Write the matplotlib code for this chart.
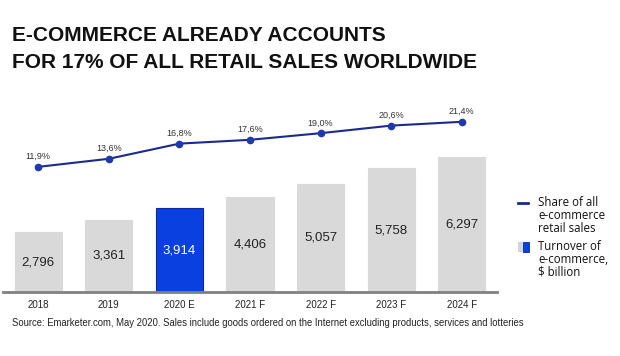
import matplotlib
matplotlib.use("Agg")
import matplotlib.pyplot as plt
from matplotlib.lines import Line2D
from matplotlib.patches import Rectangle

years = ["2018", "2019", "2020 E", "2021 F", "2022 F", "2023 F", "2024 F"]
turnover = [2796, 3361, 3914, 4406, 5057, 5758, 6297]
share = [11.9, 13.6, 16.8, 17.6, 19.0, 20.6, 21.4]
highlight = "2020 E"

W, H = 620, 356
fig = plt.figure(figsize=(W / 100, H / 100), dpi=100)
fig.patch.set_facecolor("white")

def px(x0, y0, x1, y1):
    # pixel box (top-left origin) -> figure fraction
    return [x0 / W, 1 - y1 / H, (x1 - x0) / W, (y1 - y0) / H]

def fx(x):
    return x / W

def fy(y):
    return 1 - y / H

ax = fig.add_axes(px(3, 100, 497, 292))
xs = list(range(len(years)))
gray = "#d9d9d9"
blue = "#0a3fe0"
colors = [blue if y == highlight else gray for y in years]
edges = ["#0a2aa0" if y == highlight else gray for y in years]
ax.bar(xs, turnover, width=0.666, color=colors, edgecolor=edges, linewidth=0.8, zorder=2)
for x, v, y in zip(xs, turnover, years):
    ax.text(x, v / 2, f"{v:,}", ha="center", va="center", fontsize=9.5,
            family="Liberation Sans",
            color="white" if y == highlight else "#222222", zorder=3)
ax.set_xlim(-0.5, 6.5)
ax.set_ylim(0, 8951)
for s in ["top", "right", "left"]:
    ax.spines[s].set_visible(False)
ax.spines["bottom"].set_color("#808080")
ax.spines["bottom"].set_linewidth(2)
ax.set_yticks([])
ax.set_xticks(xs)
ax.set_xticklabels(years, fontsize=7, family="Liberation Sans", color="#222222")
ax.tick_params(axis="x", length=0, pad=6)

ax2 = ax.twinx()
ax2.set_ylim(-14.5, 26.0)
ax2.axis("off")
line_color = "#1c2a8c"
ax2.plot(xs, share, color=line_color, lw=1.5, marker="o", ms=4.5,
         markerfacecolor="#1f3aa8", markeredgecolor="#1f3aa8", zorder=4)
for x, v in zip(xs, share):
    ax2.annotate(f"{v:.1f}%".replace(".", ","), (x, v), xytext=(0, 4.0),
                 textcoords="offset points", ha="center", va="bottom",
                 fontsize=6.5, family="Liberation Sans", color="#333333")

title_font = ["Liberation Sans", "DejaVu Sans"]
fig.text(fx(12), fy(41), "E-COMMERCE ALREADY ACCOUNTS", fontsize=15,
         fontweight="bold", family=title_font, color="#111111", va="baseline")
fig.text(fx(12), fy(68), "FOR 17% OF ALL RETAIL SALES WORLDWIDE", fontsize=15,
         fontweight="bold", family=title_font, color="#111111", va="baseline")

fig.text(fx(12), fy(326),
         "Source: Emarketer.com, May 2020. Sales include goods ordered on the Internet excluding products, services and lotteries",
         fontsize=6.85, family="Liberation Sans", color="#222222", va="baseline")

# legend (manual)
fig.add_artist(Line2D([fx(518), fx(528)], [fy(203), fy(203)], color=line_color, lw=2,
                      transform=fig.transFigure))
fig.add_artist(Rectangle((fx(518), fy(252)), fx(5), 10 / H, facecolor="#cfd3dc",
                         edgecolor="none", transform=fig.transFigure))
fig.add_artist(Rectangle((fx(523), fy(252)), fx(6), 10 / H, facecolor=blue,
                         edgecolor="#0a2aa0", lw=0.6, transform=fig.transFigure))
leg_kw = dict(fontsize=8.3, family="Open Sans", color="#111111", va="top", linespacing=0.98)
fig.text(fx(538), fy(196), "Share of all\ne-commerce\nretail sales", **leg_kw)
fig.text(fx(538), fy(240), "Turnover of\ne-commerce,\n$ billion", **leg_kw)

fig.savefig("out.png", dpi=100, facecolor="white")
